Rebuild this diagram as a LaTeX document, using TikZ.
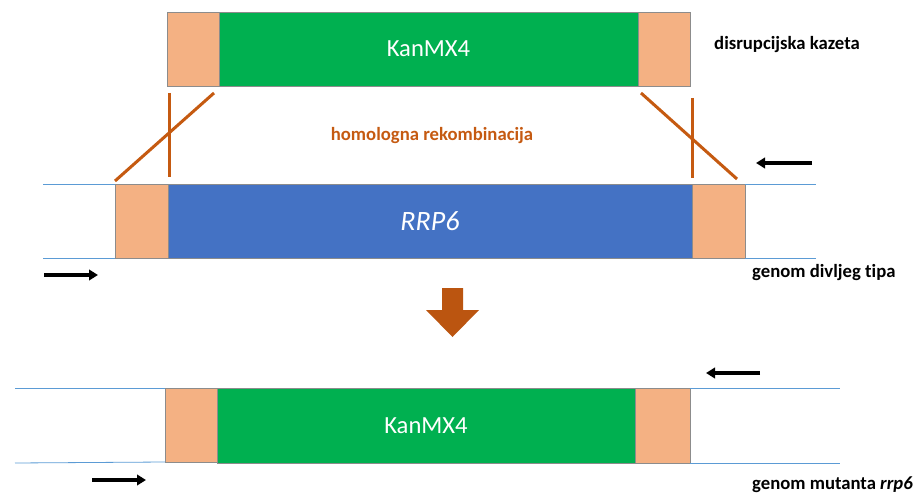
\documentclass[tikz,border=0pt]{standalone}
\usepackage{fontspec}
\setmainfont{Carlito}[Ligatures={NoCommon,NoRare}]
\usetikzlibrary{arrows.meta}
\definecolor{peach}{HTML}{F4B183}
\definecolor{kgreen}{HTML}{00B050}
\definecolor{rblue}{HTML}{4472C4}
\definecolor{rust}{HTML}{C55A11}
\definecolor{dna}{HTML}{5B9BD5}
\begin{document}
\begin{tikzpicture}[x=1pt,y=-1pt,
  seg/.style={draw=black!45, line width=0.7pt, inner sep=0pt, outer sep=0pt, anchor=north west, minimum height=74pt},
  flank/.style={seg, fill=peach, minimum width=52pt},
  gene/.style={seg, text=white, font=\fontsize{24.6}{26}\selectfont},
  dnaline/.style={draw=dna, line width=0.8pt},
  cross/.style={draw=rust, line width=3pt},
  primer/.style={draw=black, line width=3.6pt, -{Triangle[length=9pt,width=10.5pt]}},
  lab/.style={anchor=west, font=\bfseries\fontsize{18.7}{20}\selectfont, inner sep=0pt}]
\useasboundingbox (0,0) rectangle (917,494);
% disruption cassette
\node[flank] (cL) at (167,12) {};
\node[gene, fill=kgreen, minimum width=419pt] (cK) at (219,12) {KanMX4};
\node[flank] (cR) at (638,12) {};
\node[lab] (t1) at (714,45) {disrupcijska kazeta};
% wild-type genome
\node[flank, minimum width=53pt] (wL) at (115,184) {};
\node[gene, fill=rblue, minimum width=524pt, font=\itshape\fontsize{28}{30}\selectfont] (wG) at (168,184) {RRP6};
\node[flank, minimum width=53pt] (wR) at (692,184) {};
\coordinate (wl1) at (43,184);
\coordinate (wl2) at (43,258);
\coordinate (wr1) at (816,184);
\coordinate (wr2) at (816,258);
\draw[dnaline] (wl1) -- (wL.north west);
\draw[dnaline] (wl2) -- (wL.south west);
\draw[dnaline] (wR.north east) -- (wr1);
\draw[dnaline] (wR.south east) -- (wr2);
\node[lab] (t2) at (752,273) {genom divljeg tipa};
% recombination crossings
\coordinate (xa1) at (169,93);
\coordinate (xa2) at (169,177);
\coordinate (xb1) at (214,93);
\coordinate (xb2) at (115,181);
\coordinate (xc1) at (641,93);
\coordinate (xc2) at (737,179);
\coordinate (xd1) at (692,98);
\coordinate (xd2) at (692,178);
\draw[cross] (xa1) -- (xa2);
\draw[cross] (xb1) -- (xb2);
\draw[cross] (xc1) -- (xc2);
\draw[cross] (xd1) -- (xd2);
\node[font=\bfseries\fontsize{18.7}{20}\selectfont, text=rust] (t3) at (432,136) {homologna rekombinacija};
% primers wild type
\coordinate (p1s) at (812,163);
\coordinate (p1e) at (756,163);
\draw[primer] (p1s) -- (p1e);
\coordinate (p2s) at (44,275);
\coordinate (p2e) at (98,275);
\draw[primer] (p2s) -- (p2e);
% big arrow
\fill[rust!95!black] (442,288) -- (463,288) -- (463,310) -- (479,310) -- (452.5,337) -- (426,310) -- (442,310) -- cycle;
% mutant genome
\node[flank] (mL) at (165,388) {};
\node[gene, fill=kgreen, minimum width=418pt, minimum height=75pt] (mK) at (217,388) {KanMX4};
\node[flank, minimum width=55pt, minimum height=75pt] (mR) at (635,388) {};
\coordinate (ml1) at (15,388);
\coordinate (ml2) at (15,463);
\coordinate (mr1) at (840,388);
\coordinate (mr2) at (840,463);
\draw[dnaline] (ml1) -- (mL.north west);
\draw[dnaline] (ml2) -- (mL.south west);
\draw[dnaline] (mR.north east) -- (mr1);
\draw[dnaline] (mR.south east) -- (mr2);
\coordinate (p3s) at (760,373);
\coordinate (p3e) at (706,373);
\draw[primer] (p3s) -- (p3e);
\coordinate (p4s) at (92,480);
\coordinate (p4e) at (146,480);
\draw[primer] (p4s) -- (p4e);
\node[lab] (t4) at (752,485) {genom mutanta \textit{rrp6}};
\end{tikzpicture}
\end{document}
